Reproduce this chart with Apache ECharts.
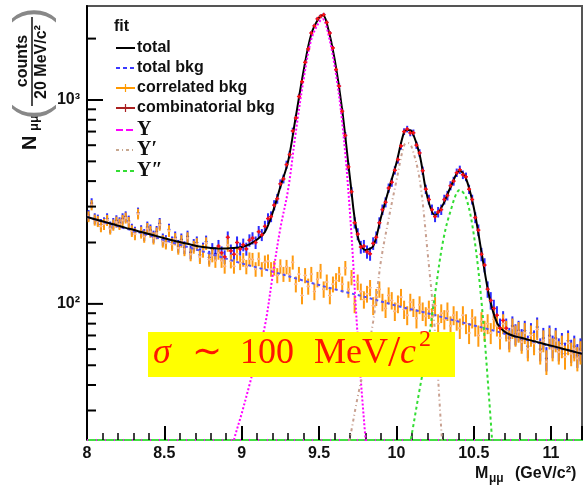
<!DOCTYPE html>
<html><head><meta charset="utf-8">
<script src="https://cdn.jsdelivr.net/npm/echarts@6/dist/echarts.min.js"></script>
<style>html,body{margin:0;padding:0;background:#fff}#c{width:585px;height:485px}</style>
</head><body><div id="c"></div>
<script>
// ---------- axes ----------
const xMin = 8.0, xMax = 11.2;
const yMin = 21.5, yMax = 2890;
const binLow = 8.0, binWidth = 0.02;
const xTickLabels = ['8', '8.5', '9', '9.5', '10', '10.5', '11'];
const yMajorTicks = [100, 1000];
const yTickLabels = ['10²', '10³'];
const yMinorTicks = [30, 40, 50, 60, 70, 80, 90, 200, 300, 400, 500, 600, 700, 800, 900, 2000];

// ---------- fit curves ----------
const bkgX = [8.0, 8.2, 8.4, 8.6, 8.8, 9.0, 9.2, 9.4, 9.6, 9.8, 10.0, 10.2, 10.4, 10.6, 10.8, 11.0, 11.2];
const bkgY = [267, 240, 217, 195, 176, 158, 144, 130, 118, 108, 98, 90, 82, 75, 68, 62, 57];

const totalX = [8.0, 8.05, 8.1, 8.15, 8.2, 8.25, 8.3, 8.35, 8.4, 8.45, 8.5, 8.55, 8.6, 8.65, 8.7, 8.75, 8.8, 8.85, 8.9, 8.95,
  9.0, 9.05, 9.1, 9.15, 9.2, 9.25, 9.3, 9.35, 9.4, 9.45, 9.5, 9.525, 9.55, 9.6, 9.65, 9.7, 9.75, 9.8, 9.85, 9.9, 9.95,
  10.0, 10.05, 10.075, 10.1, 10.15, 10.2, 10.25, 10.3, 10.35, 10.41, 10.45, 10.5, 10.55, 10.6, 10.65, 10.7, 10.75,
  10.8, 10.85, 10.9, 10.95, 11.0, 11.05, 11.1, 11.15, 11.2];
const totalY = [267, 260, 254, 248, 242, 236, 231, 225, 220, 215, 210, 205, 201, 197, 193, 190, 188, 187, 187, 188,
  190, 196, 207, 225, 280, 375, 500, 830, 1387, 2107, 2531, 2610, 2383, 1600, 890, 414, 214, 184, 192, 265, 362,
  490, 696, 713, 702, 540, 336, 272, 305, 373, 450, 413, 298, 180, 109, 81, 73, 70,
  68.4, 66.8, 65.3, 63.8, 62.4, 61, 59.6, 58.2, 56.9];

const ups1X = [8.93, 8.95, 9.0, 9.05, 9.1, 9.15, 9.2, 9.25, 9.3, 9.35, 9.4, 9.45, 9.5, 9.525, 9.55, 9.6, 9.65, 9.7, 9.75, 9.8, 9.82];
const ups1Y = [18, 21.5, 29, 40, 56, 78, 137, 235, 363, 697, 1257, 1980, 2407, 2490, 2262, 1482, 775, 280, 69, 22, 16];
const ups2X = [9.68, 9.7, 9.75, 9.8, 9.85, 9.9, 9.95, 10.0, 10.05, 10.075, 10.1, 10.15, 10.2, 10.25, 10.3, 10.32];
const ups2Y = [19, 22, 35, 52, 82, 162, 261, 400, 600, 615, 585, 410, 185, 72, 19, 14];
const ups3X = [10.08, 10.1, 10.15, 10.2, 10.25, 10.3, 10.35, 10.41, 10.45, 10.5, 10.55, 10.6, 10.63];
const ups3Y = [19, 23, 38, 61, 112, 200, 285, 362, 333, 220, 103, 34, 16];

// ---------- histograms (20 MeV bins from 8.0) ----------
const dataTotal = [
  272, 312, 262, 258, 245, 250, 262, 238, 248, 256,
  250, 262, 268, 255, 232, 224, 280, 228, 218, 238,
  230, 214, 226, 248, 207, 203, 232, 200, 212, 192,
  207, 189, 214, 179, 194, 200, 174, 186, 202, 169,
  185, 176, 192, 178, 170, 212, 182, 175, 200, 186,
  195, 186, 205, 210, 200, 226, 218, 240, 262, 268,
  305, 328, 388, 410, 482, 540, 705, 815, 1040, 1230,
  1530, 1780, 2130, 2310, 2500, 2570, 2620, 2400, 2130, 1800,
  1410, 1170, 880, 670, 470, 355, 250, 220, 190, 192,
  180, 176, 198, 212, 250, 290, 315, 370, 395, 452,
  510, 595, 700, 720, 690, 690, 600, 550, 450, 365,
  325, 290, 268, 282, 290, 325, 340, 380, 400, 440,
  455, 430, 420, 365, 325, 265, 230, 175, 155, 118,
  104, 95, 88, 76, 83, 76, 68, 78, 71, 74,
  67, 74, 62, 72, 66, 77, 60, 68, 54, 70,
  62, 68, 60, 64, 57, 66, 59, 62, 56, 60];
const dataCorr = [
  268, 305, 258, 254, 240, 246, 257, 234, 244, 252,
  246, 257, 264, 251, 228, 220, 276, 224, 214, 234,
  226, 210, 222, 244, 203, 199, 228, 196, 208, 188,
  203, 185, 210, 175, 190, 196, 170, 182, 198, 165,
  173, 163, 178, 163, 153, 194, 162, 153, 176, 159,
  165, 152, 166, 165, 148, 166, 148, 160, 162, 148,
  150, 138, 153, 140, 152, 140, 160, 125, 140, 110,
  138, 122, 140, 115, 132, 145, 118, 128, 110, 125,
  130, 140, 125, 150, 118, 135, 100, 128, 115, 105,
  112, 120, 98, 108, 118, 102, 95, 110, 104, 92,
  100, 108, 94, 88, 102, 96, 85, 99, 92, 87,
  94, 86, 98, 80, 90, 84, 92, 78, 88, 83,
  76, 88, 80, 72, 85, 78, 70, 82, 74, 80,
  72, 84, 78, 68, 80, 74, 66, 76, 70, 73,
  65, 72, 60, 70, 64, 75, 58, 66, 52, 68,
  60, 66, 58, 62, 55, 64, 57, 60, 54, 58];
const redRange = [8.85, 10.72];

// ---------- build ----------
const pairs = (xs, ys) => xs.map((x, i) => [x, ys[i]]);
const centers = dataTotal.map((_, i) => +(binLow + binWidth * (i + 0.5)).toFixed(3));

function errSeries(values, color, width, marker, z) {
  return {
    type: 'custom', z, clip: true, silent: true,
    data: values.map((v, i) => [centers[i], v]),
    renderItem(params, api) {
      const x = api.value(0), v = api.value(1), e = Math.sqrt(v);
      const t = api.coord([x, v + e]), b = api.coord([x, v - e]), c = api.coord([x, v]);
      const l = api.coord([x - binWidth / 2, v]), r = api.coord([x + binWidth / 2, v]);
      const ch = [
        {type: 'line', shape: {x1: t[0], y1: t[1], x2: b[0], y2: b[1]}, style: {stroke: color, lineWidth: width}},
        {type: 'line', shape: {x1: l[0], y1: l[1], x2: r[0], y2: r[1]}, style: {stroke: color, lineWidth: 1}}
      ];
      if (marker) ch.push({type: 'rect', shape: {x: c[0] - 1, y: c[1] - 1, width: 2, height: 2}, style: {fill: marker}});
      return {type: 'group', children: ch};
    }
  };
}
function curve(xs, ys, color, width, dash, z, extra) {
  return Object.assign({
    type: 'line', data: pairs(xs, ys), showSymbol: false, smooth: 0.35, clip: true, silent: true, z,
    lineStyle: {color, width, type: dash}
  }, extra || {});
}

const redData = dataTotal.map((v, i) => [centers[i], v]).filter(d => d[0] >= redRange[0] && d[0] <= redRange[1]);
const yTickData = yMajorTicks.map(v => [xMin, v, 16]).concat(yMinorTicks.map(v => [xMin, v, 9]));

const F = '"Liberation Sans", Arial, sans-serif';
const FS = '"Liberation Serif", "DejaVu Serif", serif';

function legRow(y, color, dash, label, serif, tick) {
  const els = [{type: 'line', shape: {x1: 116, y1: y, x2: 135, y2: y}, style: {stroke: color, lineWidth: 2, lineDash: dash}, z: 50}];
  if (tick) els.push({type: 'line', shape: {x1: 125.5, y1: y - 4, x2: 125.5, y2: y + 4}, style: {stroke: color, lineWidth: 1.2}, z: 50});
  els.push({type: 'text', x: 137, y: y, z: 50, style: {text: label, fill: '#111', font: serif ? 'bold 20px ' + FS : 'bold 16px ' + F, verticalAlign: 'middle'}});
  return els;
}

const RED = '#ff1500';
const graphics = [].concat(
  [{type: 'text', x: 114, y: 27, z: 50, style: {text: 'fit', fill: '#111', font: 'bold 16px ' + F, verticalAlign: 'middle'}}],
  legRow(48, '#000', null, 'total'),
  legRow(68, '#3a3aff', [4, 3], 'total bkg'),
  legRow(88, '#ff9900', null, 'correlated bkg', false, true),
  legRow(108, '#aa2020', null, 'combinatorial bkg', false, true),
  legRow(130, '#ff00ff', [7, 3], 'Υ', true),
  legRow(150, '#c8a890', [3, 3, 1, 3], 'Υ′', true),
  legRow(171, '#33dd33', [4, 3], 'Υ″', true),
  [
    // y-axis title
    {type: 'group', x: 0, y: 160, rotation: Math.PI / 2, z: 50, children: [
      {type: 'text', x: 10, y: 30, style: {text: 'N', fill: '#111', font: 'bold 20px ' + F, verticalAlign: 'middle'}},
      {type: 'text', x: 29, y: 34, style: {text: 'μμ', fill: '#111', font: 'bold 13px ' + F, verticalAlign: 'middle'}},
      {type: 'text', x: 48, y: 33, style: {text: '(', fill: '#888', font: '46px ' + F, align: 'center', verticalAlign: 'middle'}},
      {type: 'text', x: 145, y: 33, style: {text: ')', fill: '#888', font: '46px ' + F, align: 'center', verticalAlign: 'middle'}},
      {type: 'text', x: 99, y: 23, style: {text: 'counts', fill: '#111', font: 'bold 16px ' + F, align: 'center', verticalAlign: 'middle'}},
      {type: 'line', shape: {x1: 54, y1: 32, x2: 143, y2: 32}, style: {stroke: '#111', lineWidth: 1.5}},
      {type: 'text', x: 98, y: 42, style: {text: '20 MeV/c²', fill: '#111', font: 'bold 16px ' + F, align: 'center', verticalAlign: 'middle'}}
    ]},
    // x-axis title
    {type: 'text', x: 475, y: 474, z: 50, style: {text: 'M', fill: '#111', font: 'bold 16px ' + F, verticalAlign: 'middle'}},
    {type: 'text', x: 489, y: 479, z: 50, style: {text: 'μμ', fill: '#111', font: 'bold 12px ' + F, verticalAlign: 'middle'}},
    {type: 'text', x: 515, y: 474, z: 50, style: {text: '(GeV/c²)', fill: '#111', font: 'bold 16px ' + F, verticalAlign: 'middle'}},
    // yellow annotation
    {type: 'rect', shape: {x: 148, y: 332, width: 307, height: 45}, style: {fill: '#ffff00'}, z: 100},
    {type: 'text', x: 153, y: 354, z: 101, style: {text: 'σ', fill: RED, font: 'italic 36px ' + FS, verticalAlign: 'middle'}},
    {type: 'text', x: 192, y: 354, z: 101, style: {text: '∼', fill: RED, font: '36px ' + FS, verticalAlign: 'middle'}},
    {type: 'text', x: 240, y: 354, z: 101, style: {text: '100', fill: RED, font: '36px ' + FS, verticalAlign: 'middle'}},
    {type: 'text', x: 314, y: 354, z: 101, style: {text: 'MeV', fill: RED, font: '36px ' + FS, verticalAlign: 'middle'}},
    {type: 'text', x: 388, y: 354, z: 101, style: {text: '/', fill: RED, font: '44px ' + FS, verticalAlign: 'middle'}},
    {type: 'text', x: 400, y: 354, z: 101, style: {text: 'c', fill: RED, font: 'italic 36px ' + FS, verticalAlign: 'middle'}},
    {type: 'text', x: 419, y: 340, z: 101, style: {text: '2', fill: RED, font: '24px ' + FS, verticalAlign: 'middle'}}
  ]
);

const option = {
  animation: false,
  backgroundColor: '#fff',
  grid: {left: 87, top: 6, width: 503, height: 434, show: true, borderColor: '#555', borderWidth: 2, backgroundColor: 'transparent'},
  xAxis: {
    type: 'value', min: xMin, max: xMax, interval: 0.5,
    axisLine: {lineStyle: {color: '#44dd44', width: 2}},
    axisTick: {inside: true, length: 14, lineStyle: {color: '#000', width: 2}},
    minorTick: {show: true, splitNumber: 5, length: 7, lineStyle: {color: '#000', width: 1.5}},
    splitLine: {show: false}, minorSplitLine: {show: false},
    axisLabel: {
      margin: 6, color: '#111', fontFamily: F, fontWeight: 'bold', fontSize: 16,
      formatter: v => { const s = String(+(+v).toFixed(2)); return xTickLabels.indexOf(s) >= 0 ? s : ''; }
    }
  },
  yAxis: {
    type: 'log', logBase: 10, min: yMin, max: yMax,
    axisLine: {show: true, lineStyle: {color: '#000', width: 2}},
    axisTick: {show: false}, splitLine: {show: false},
    axisLabel: {
      margin: 7, color: '#111', fontFamily: F, fontWeight: 'bold', fontSize: 16,
      formatter: v => { const k = yMajorTicks.findIndex(t => Math.abs(v - t) / t < 1e-6); return k >= 0 ? yTickLabels[k] : ''; }
    }
  },
  graphic: graphics,
  series: [
    errSeries(dataTotal, '#2a2aff', 2, '#1010c0', 2),
    errSeries(dataCorr, '#ff9a10', 2, '#f8b8a0', 3),
    curve(bkgX, bkgY, '#5050ff', 2, [3, 3], 4),
    curve(totalX, totalY, '#000', 2, 'solid', 5),
    curve(ups1X, ups1Y, '#ff00ff', 2, [2, 2], 6, {
      markLine: {silent: true, symbol: 'none', label: {show: false}, data: [{yAxis: yMin}],
                 lineStyle: {color: '#ff00ff', type: [1, 8], width: 2}}
    }),
    curve(ups2X, ups2Y, '#c8a090', 2, [3, 3, 1, 3], 6),
    curve(ups3X, ups3Y, '#33dd33', 2, [3, 3], 6),
    {
      type: 'custom', z: 7, clip: true, silent: true, data: redData,
      renderItem(params, api) {
        const c = api.coord([api.value(0), api.value(1)]);
        return {type: 'group', children: [
          {type: 'line', shape: {x1: c[0] - 2, y1: c[1], x2: c[0] + 2, y2: c[1]}, style: {stroke: '#ff1010', lineWidth: 1.5}},
          {type: 'line', shape: {x1: c[0], y1: c[1] - 2, x2: c[0], y2: c[1] + 2}, style: {stroke: '#ff1010', lineWidth: 1.5}}
        ]};
      }
    },
    {
      type: 'custom', z: 8, silent: true, data: yTickData,
      renderItem(params, api) {
        const c = api.coord([api.value(0), api.value(1)]);
        return {type: 'line', shape: {x1: c[0], y1: c[1], x2: c[0] + api.value(2), y2: c[1]}, style: {stroke: '#000', lineWidth: 2}};
      }
    }
  ]
};
const chart = echarts.init(document.getElementById('c'));
chart.setOption(option);
</script>
</body></html>
